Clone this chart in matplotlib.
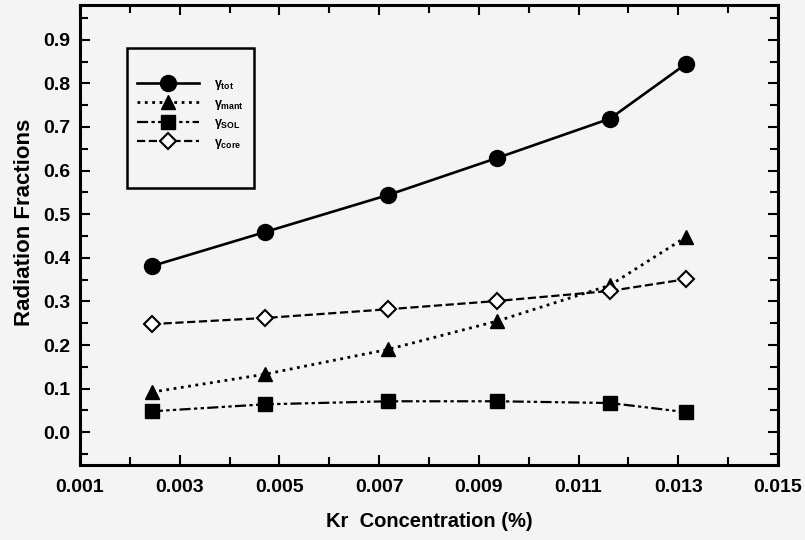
import matplotlib
matplotlib.use("Agg")
import matplotlib.pyplot as plt
from matplotlib.ticker import MultipleLocator, FormatStrFormatter
from matplotlib.patches import Rectangle

kr = [0.00244, 0.00471, 0.00718, 0.00937, 0.01163, 0.01316]
g_tot = [0.381, 0.459, 0.544, 0.629, 0.719, 0.845]
g_mant = [0.092, 0.133, 0.190, 0.255, 0.337, 0.448]
g_sol = [0.048, 0.064, 0.071, 0.071, 0.067, 0.046]
g_core = [0.248, 0.262, 0.282, 0.301, 0.324, 0.351]
labels = [r"$\gamma_{tot}$", r"$\gamma_{mant}$", r"$\gamma_{SOL}$", r"$\gamma_{core}$"]
xticks = [0.001, 0.003, 0.005, 0.007, 0.009, 0.011, 0.013, 0.015]
yticks = [0.0, 0.1, 0.2, 0.3, 0.4, 0.5, 0.6, 0.7, 0.8, 0.9]

plt.rcParams['font.family'] = ['Liberation Sans', 'DejaVu Sans']
plt.rcParams['mathtext.fontset'] = 'custom'
plt.rcParams['mathtext.rm'] = 'Liberation Sans:bold'
plt.rcParams['mathtext.it'] = 'Liberation Sans:bold'

bg = '#f4f4f4'
fig = plt.figure(figsize=(8.05, 5.4), dpi=100, facecolor=bg)
ax = fig.add_axes([0.0994, 0.139, 0.867, 0.852], facecolor=bg)

ax.plot(kr, g_tot, '-', color='black', lw=1.9, marker='o', ms=11.5, mfc='black', mec='black', label=labels[0])
ax.plot(kr, g_mant, ':', color='black', lw=2.0, marker='^', ms=10.5, mfc='black', mec='black', label=labels[1])
ax.plot(kr, g_sol, color='black', lw=1.6, ls=(0, (5, 1.5, 1.5, 1.5, 1.5, 1.5)), marker='s', ms=10.5, mfc='black', mec='black', label=labels[2])
ax.plot(kr, g_core, '--', color='black', lw=1.6, marker='D', ms=8, mfc='white', mec='black', mew=1.5, label=labels[3])

ax.set_xlim(0.001, 0.015)
ax.set_ylim(-0.075, 0.98)
ax.set_xticks(xticks)
ax.xaxis.set_minor_locator(MultipleLocator(0.001))
ax.xaxis.set_major_formatter(FormatStrFormatter('%.3f'))
ax.set_yticks(yticks)
ax.yaxis.set_minor_locator(MultipleLocator(0.05))
ax.yaxis.set_major_formatter(FormatStrFormatter('%.1f'))

ax.tick_params(which='both', direction='in', top=True, right=True, width=1.5,
               labelsize=14)
ax.tick_params(axis='x', which='major', pad=10)
ax.tick_params(axis='y', which='major', pad=7)
ax.tick_params(which='major', length=7)
ax.tick_params(which='minor', length=6)
for lab in ax.get_xticklabels() + ax.get_yticklabels():
    lab.set_fontweight('bold')
for s in ax.spines.values():
    s.set_linewidth(2.2)

ax.set_xlabel('Kr  Concentration (%)', fontsize=14.5, fontweight='bold')
ax.set_ylabel('Radiation Fractions', fontsize=16, fontweight='bold')
ax.xaxis.set_label_coords(0.5, -0.103)
ax.yaxis.set_label_coords(-0.064, 0.528)

ax.add_patch(Rectangle((0.067, 0.602), 0.182, 0.305, transform=ax.transAxes,
                       fill=False, ec='black', lw=1.8, zorder=5))
leg = ax.legend(loc='upper left', bbox_to_anchor=(0.074, 0.852), frameon=False,
                handlelength=5.0, fontsize=9, labelspacing=0.45, handletextpad=1.2,
                borderaxespad=0)

fig.savefig('out.png', dpi=100, facecolor=bg)
